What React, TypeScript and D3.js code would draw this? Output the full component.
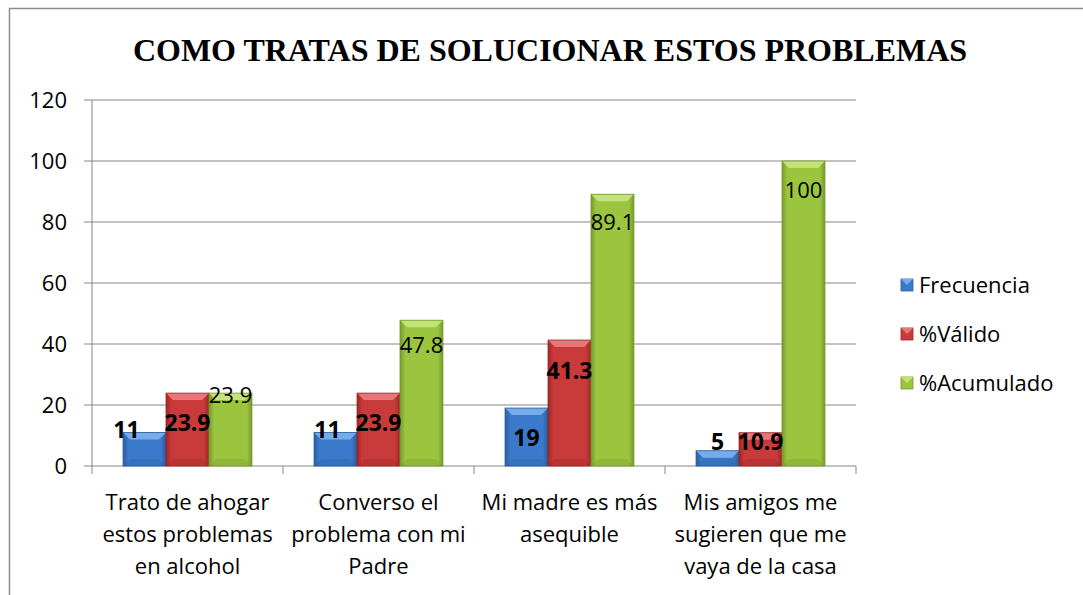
import React from "react";
import * as d3 from "d3";

const categories = [
  "Trato de ahogar\nestos problemas\nen alcohol",
  "Converso el\nproblema con mi\nPadre",
  "Mi madre es más\nasequible",
  "Mis amigos me\nsugieren que me\nvaya de la casa",
];
const seriesNames = ["Frecuencia", "%Válido", "%Acumulado"];
const frecuencia = [11, 11, 19, 5];
const valido = [23.9, 23.9, 41.3, 10.9];
const acumulado = [23.9, 47.8, 89.1, 100];
const yTicks = [0, 20, 40, 60, 80, 100, 120];

// label placement: offset of label centre from the bar top, px
const labelDy = [
  [-3, -3, 30, -9],
  [30, 30, 31, 9],
  [2, 25, 28, 29],
];
const labelDx = [
  [-18, -8, 0, 0],
  [0, 0, 0, 0],
  [0, 0, 0, 0],
];

const colors = [
  { base: "#3b7acb", light: "#7fb0ec", dark: "#2a5c9e" },
  { base: "#c93a3a", light: "#e98080", dark: "#9c2626" },
  { base: "#9cc53f", light: "#c8e67f", dark: "#76982b" },
];

const W = 1083;
const H = 595;
const font = "'Open Sans', sans-serif";

export default function App() {
  const values = [frecuencia, valido, acumulado];
  const y = d3.scaleLinear().domain([0, 120]).range([466, 100]);
  const x0 = d3
    .scaleBand<string>()
    .domain(categories)
    .range([92, 856])
    .paddingInner(0.325)
    .paddingOuter(0.1625);
  const x1 = d3
    .scaleBand<string>()
    .domain(seriesNames)
    .range([0, x0.bandwidth()]);
  const step = x0.step();
  const catEdges = d3.range(categories.length + 1).map((i) => 92 + i * step);

  const bar = (si: number, ci: number) => {
    const v = values[si][ci];
    const bx = (x0(categories[ci]) || 0) + (x1(seriesNames[si]) || 0);
    const bw = x1.bandwidth();
    const by = y(v);
    const bh = y(0) - by;
    const b = Math.min(7, bh / 2);
    const c = colors[si];
    return (
      <g key={`${si}-${ci}`}>
        <rect x={bx} y={by} width={bw} height={bh} fill={`url(#grad${si})`} />
        <polygon
          points={`${bx},${by} ${bx + bw},${by} ${bx + bw - b},${by + b} ${bx + b},${by + b}`}
          fill={c.light}
          opacity={0.9}
        />
        <polygon
          points={`${bx},${by + bh} ${bx + bw},${by + bh} ${bx + bw - b},${by + bh - b} ${bx + b},${by + bh - b}`}
          fill={c.dark}
          opacity={0.3}
        />
        <rect x={bx} y={by} width={bw} height={bh} fill="none" stroke={c.dark} strokeWidth={0.8} />
      </g>
    );
  };

  return (
    <svg width={W} height={H} style={{ position: "absolute", left: 0, top: 0 }}>
      <defs>
        {colors.map((c, i) => (
          <linearGradient key={i} id={`grad${i}`} x1="0" x2="1" y1="0" y2="0">
            <stop offset="0" stopColor={c.dark} />
            <stop offset="0.12" stopColor={c.base} />
            <stop offset="0.5" stopColor={c.base} />
            <stop offset="0.88" stopColor={c.base} />
            <stop offset="1" stopColor={c.dark} />
          </linearGradient>
        ))}
      </defs>
      <rect x={0} y={0} width={W} height={H} fill="#fff" />
      <rect x={9.5} y={8.5} width={W} height={H} fill="none" stroke="#8c8c8c" strokeWidth={1.5} />

      <text
        x={550}
        y={61}
        textAnchor="middle"
        fontFamily="'Liberation Serif', 'Times New Roman', serif"
        fontWeight="bold"
        fontSize={32}
      >
        COMO TRATAS DE SOLUCIONAR ESTOS PROBLEMAS
      </text>

      {yTicks.map((t) => (
        <g key={t}>
          <line x1={84} x2={856} y1={y(t)} y2={y(t)} stroke="#868686" strokeWidth={1} />
          <text
            x={67}
            y={y(t)}
            dy="0.36em"
            textAnchor="end"
            fontFamily={font}
            fontSize={22}
            fill="#000"
          >
            {t}
          </text>
        </g>
      ))}
      <line x1={92} x2={92} y1={y(120)} y2={y(0)} stroke="#868686" strokeWidth={1} />
      {catEdges.map((e, i) => (
        <line key={i} x1={e} x2={e} y1={y(0)} y2={y(0) + 8} stroke="#868686" strokeWidth={1} />
      ))}

      {seriesNames.map((_, si) => categories.map((_, ci) => bar(si, ci)))}

      {seriesNames.map((_, si) =>
        categories.map((cat, ci) => {
          const v = values[si][ci];
          const cx =
            (x0(cat) || 0) + (x1(seriesNames[si]) || 0) + x1.bandwidth() / 2 + labelDx[si][ci];
          return (
            <text
              key={`l${si}-${ci}`}
              x={cx}
              y={y(v) + labelDy[si][ci]}
              dy="0.36em"
              textAnchor="middle"
              fontFamily={font}
              fontSize={si < 2 ? 23 : 22}
              fontWeight={si < 2 ? "bold" : "normal"}
              fill="#000"
            >
              {v}
            </text>
          );
        })
      )}

      {categories.map((cat) => {
        const cx = (x0(cat) || 0) + x0.bandwidth() / 2;
        return (
          <text key={cat} textAnchor="middle" fontFamily={font} fontSize={22} fill="#000">
            {cat.split("\n").map((line, i) => (
              <tspan key={i} x={cx} y={502 + i * 32} dy="0.36em">
                {line}
              </tspan>
            ))}
          </text>
        );
      })}

      {seriesNames.map((name, si) => {
        const ly = 285 + si * 49;
        const c = colors[si];
        return (
          <g key={name}>
            <rect x={901} y={ly - 6} width={12} height={12} fill={c.base} stroke={c.dark} strokeWidth={0.8} />
            <polygon
              points={`${901},${ly - 6} ${913},${ly - 6} ${907},${ly}`}
              fill={c.light}
              opacity={0.9}
            />
            <text x={919} y={ly} dy="0.36em" fontFamily={font} fontSize={22} fill="#000">
              {name}
            </text>
          </g>
        );
      })}
    </svg>
  );
}
